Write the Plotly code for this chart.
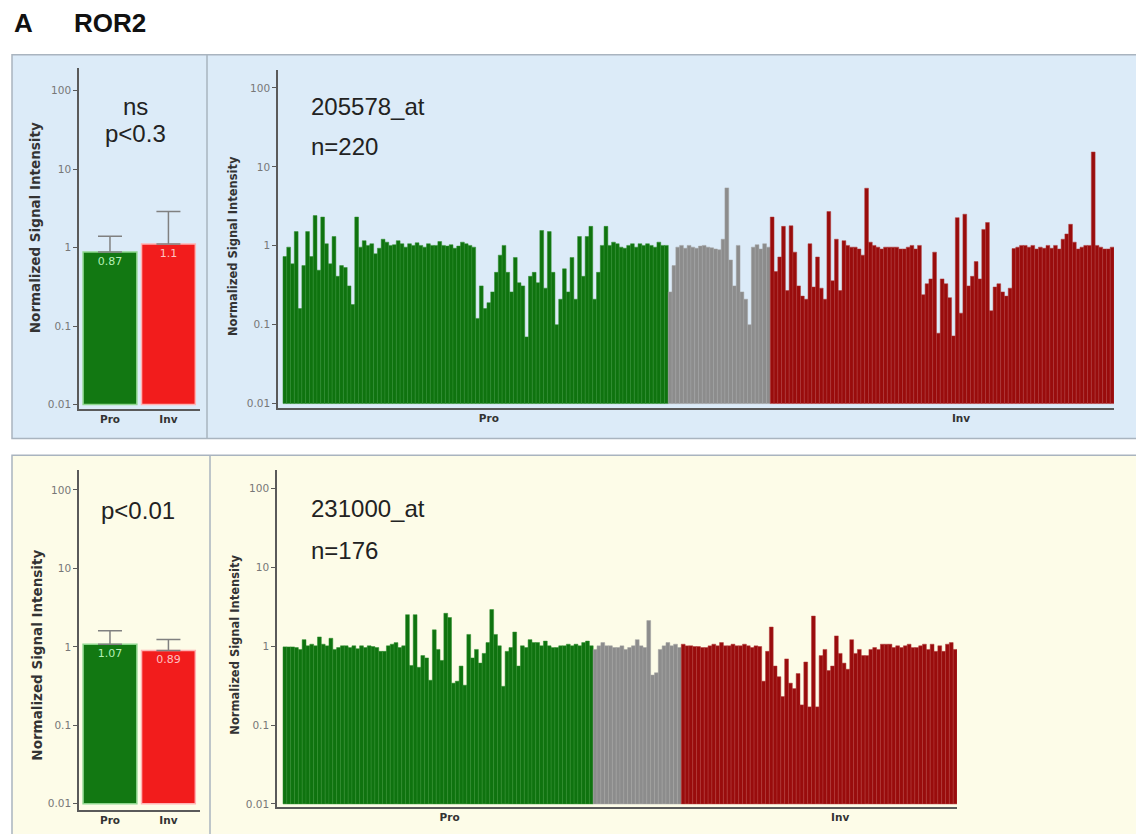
import plotly.graph_objects as go

W, H = 1136, 834

# ---------------- data ----------------
GROUPS = ["Pro", "Inv"]

# summary panels (mean and upper error-bar end)
TOP_MEAN = [0.87, 1.1]
TOP_UPPER = [1.38, 2.86]
TOP_LABELS = ["0.87", "1.1"]
BOT_MEAN = [1.07, 0.89]
BOT_UPPER = [1.6, 1.23]
BOT_LABELS = ["1.07", "0.89"]

# 205578_at, n=220
TOP_GREEN = [0.72, 0.95, 0.58, 1.5, 0.15, 0.55, 1.5, 0.72, 2.4, 0.48,
             2.3, 1.05, 0.58, 1.3, 0.4, 0.55, 0.52, 0.3, 0.17,
             2.3, 0.95, 1.15, 1.0, 1.05, 0.78, 0.92, 1.2, 1.1, 1.0,
             1.02, 1.15, 1.05, 0.95, 1.05, 1.0, 1.08, 1.0, 0.95, 1.05,
             1.0, 1.0, 1.12, 1.0, 0.98, 1.02, 0.92, 0.98, 1.1, 1.05, 1.0, 0.95,
             0.11, 0.3, 0.15, 0.18, 0.25, 0.45, 0.75, 1.0, 0.45, 0.25,
             0.7, 0.33, 0.3, 0.06, 0.4, 0.45, 0.33, 1.55, 0.28, 1.5,
             0.45, 0.09, 0.2, 0.5, 0.25, 0.7, 0.2, 1.3, 0.4, 1.3, 1.75, 0.2, 0.45,
             1.0, 1.75, 1.0, 1.1, 1.05, 0.95, 0.92, 1.0, 1.05, 0.95,
             1.05, 1.0, 1.05, 1.0, 0.95, 1.1, 1.0, 1.0]
TOP_GRAY = [0.25, 0.55, 0.95, 1.0, 0.92, 1.0, 0.95, 0.92, 0.98, 1.0,
            0.95, 0.93, 0.9, 0.88, 1.2, 5.4, 0.65, 0.3, 1.0, 0.25,
            0.2, 0.09, 0.95, 1.02, 0.9, 1.05, 0.95]
TOP_RED = [2.3, 0.46, 0.71, 1.75, 0.26, 1.78, 0.82, 0.3, 0.22, 0.2,
           1.05, 0.29, 0.71, 0.28, 0.2, 2.7, 0.35, 1.2, 0.26, 1.15,
           1.0, 0.95, 0.95, 0.9, 0.75, 5.35, 1.1, 1.0, 0.95, 0.9,
           0.95, 0.95, 0.95, 0.95, 0.9, 0.9, 0.95, 1.0, 0.9, 1.0,
           0.23, 0.32, 0.37, 0.82, 0.068, 0.37, 0.32, 0.21, 0.062, 2.26,
           0.13, 2.5, 0.3, 0.4, 0.62, 0.37, 1.6, 1.96, 0.14, 0.29,
           0.32, 0.25, 0.22, 0.28, 0.91, 0.95, 1.0, 1.0, 0.95, 1.0,
           0.9, 0.95, 0.92, 1.0, 0.92, 1.0, 0.9, 1.2, 1.4, 1.86,
           1.1, 0.9, 0.95, 1.0, 1.0, 15.4, 1.0, 0.95, 0.9, 0.9, 0.95]

# 231000_at, n=176
BOT_GREEN = [0.97, 0.97, 0.97, 0.95, 0.9, 1.2, 1.0, 1.05, 1.0, 1.3,
             1.05, 1.0, 1.25, 0.9, 0.95, 1.0, 1.0, 0.95, 1.0, 0.92,
             1.0, 0.95, 1.0, 0.98, 0.95, 0.85, 0.85, 1.0, 1.05, 1.1,
             0.95, 1.0,
             2.5, 0.56, 2.5, 0.53, 0.75, 0.7, 0.36, 1.6, 0.9, 0.65,
             2.6, 2.3, 0.33, 0.35, 0.55, 0.31, 1.4, 0.7, 0.9, 0.6,
             0.8, 1.1, 2.9, 1.4, 1.0, 0.3, 0.85, 0.95, 1.5, 0.55,
             1.0, 0.95, 1.2, 1.1, 1.1, 1.0, 1.15, 1.0, 0.95, 0.95,
             1.0, 1.0, 1.05, 1.0, 1.05, 1.0, 1.1, 1.15, 1.0]
BOT_GRAY = [0.9, 1.0, 1.1, 1.0, 1.0, 0.95, 0.95, 1.0, 0.9, 0.95,
            1.0, 1.2, 1.0, 0.95, 2.1, 0.42, 0.45, 0.9, 1.0, 1.1,
            1.0, 1.05, 0.95]
BOT_RED = [1.05, 1.0, 1.0, 0.98, 0.98, 0.95, 0.95, 1.0, 1.05, 1.0,
           1.1, 1.0, 1.0, 1.05, 1.0, 1.0, 1.05, 1.0, 0.95, 1.0,
           0.98, 0.35, 0.85, 1.74, 0.55, 0.4, 0.22, 0.68, 0.33, 0.28,
           0.44, 0.17, 0.62, 0.16, 2.4, 0.16, 0.75, 0.9, 0.48, 0.55,
           1.34, 0.8, 0.6, 0.5, 1.2, 0.8, 0.9, 0.75, 0.75, 0.9,
           0.95, 0.9, 1.05, 1.05, 1.05, 0.95, 1.0, 0.95, 1.0, 1.05,
           0.95, 0.95, 1.0, 1.05, 0.9, 1.05, 0.85, 1.0, 0.85, 1.05,
           1.1, 0.9]

Y_TICKS = [0.01, 0.1, 1, 10, 100]
Y_TICKTEXT = ["0.01", "0.1", "1", "10", "100"]
TOP_GROUP_TICKS = [54, 179]
BOT_GROUP_TICKS = [43, 145]

# ---------------- styling ----------------
GREEN = "#127812"
GREEN_EDGE = "#8fd68f"
RED = "#f21c1c"
RED_EDGE = "#ffb4b4"
DGREEN = "#0f730f"
DGREEN_EDGE = "#2f8f2f"
DARKRED = "#990c0c"
DARKRED_EDGE = "#b33a3a"
GRAY = "#8c8c8c"
GRAY_EDGE = "#a2a2a2"
AXIS = "#5a5a5a"
SMALL = "DejaVu Sans"
BIG = "Liberation Sans, Arial"


def px(x):
    return x / W


def py(y):
    return 1 - y / H


fig = go.Figure()

# ---- summary bar panels ----
def summary(mean, upper, labels, xa, ya):
    fig.add_trace(go.Bar(
        x=list(range(len(GROUPS))), y=mean, base=0.01, width=0.92,
        marker=dict(color=[GREEN, RED], line=dict(color=[GREEN_EDGE, RED_EDGE], width=1.5)),
        text=labels, textposition="inside", insidetextanchor="end",
        textangle=0, textfont=dict(family=SMALL, size=11, color=["#b5f0b5", "#ffc0c0"]),
        error_y=dict(type="data", symmetric=False,
                     array=[u - m for u, m in zip(upper, mean)],
                     arrayminus=[0] * len(mean), color="#808080",
                     thickness=1.5, width=12),
        xaxis=xa, yaxis=ya, hoverinfo="skip"))


summary(TOP_MEAN, TOP_UPPER, TOP_LABELS, "x", "y")
summary(BOT_MEAN, BOT_UPPER, BOT_LABELS, "x3", "y3")


# ---- per-sample panels ----
def samples(green, gray, red, xa, ya):
    start = 0
    for vals, col, edge in ((green, DGREEN, DGREEN_EDGE), (gray, GRAY, GRAY_EDGE), (red, DARKRED, DARKRED_EDGE)):
        fig.add_trace(go.Bar(
            x=list(range(start, start + len(vals))), y=vals, base=0.01, width=1.0,
            marker=dict(color=col, line=dict(color=edge, width=0.5)),
            xaxis=xa, yaxis=ya, hoverinfo="skip"))
        start += len(vals)
    return start


n_top = samples(TOP_GREEN, TOP_GRAY, TOP_RED, "x2", "y2")
n_bot = samples(BOT_GREEN, BOT_GRAY, BOT_RED, "x4", "y4")


def yaxis(dom, rng):
    return dict(type="log", domain=[py(dom[1]), py(dom[0])], range=rng,
                tickvals=Y_TICKS, ticktext=Y_TICKTEXT, ticks="outside", ticklen=4,
                tickcolor=AXIS, tickwidth=1, showline=True, linecolor=AXIS, linewidth=1.5,
                showgrid=False, zeroline=False,
                tickfont=dict(family=SMALL, size=10.5, color="#777777"))


def xaxis(dom, rng, tv, tt):
    return dict(domain=[px(dom[0]), px(dom[1])], range=rng, tickvals=tv, ticktext=tt,
                ticks="", showline=True, linecolor=AXIS, linewidth=1.5,
                showgrid=False, zeroline=False,
                tickfont=dict(family=SMALL, size=10.5, color="#333333", weight="bold"))


fig.update_layout(
    width=W, height=H, margin=dict(l=0, r=0, t=0, b=0),
    paper_bgcolor="white", plot_bgcolor="rgba(0,0,0,0)",
    showlegend=False, barmode="overlay",
    xaxis=dict(xaxis((79, 200), [-0.53, 1.54], [0, 1], GROUPS), anchor="y"),
    yaxis=dict(yaxis((68, 410), [-2.05, 2.29]), anchor="x"),
    xaxis2=dict(xaxis((278, 1114), [-1.82, n_top - 0.5], TOP_GROUP_TICKS, GROUPS), anchor="y2"),
    yaxis2=dict(yaxis((70, 409), [-2.05, 2.23]), anchor="x2"),
    xaxis3=dict(xaxis((79, 200), [-0.53, 1.54], [0, 1], GROUPS), anchor="y3"),
    yaxis3=dict(yaxis((472, 813), [-2.08, 2.25]), anchor="x3"),
    xaxis4=dict(xaxis((277, 957), [-2.07, n_bot - 0.5], BOT_GROUP_TICKS, GROUPS), anchor="y4"),
    yaxis4=dict(yaxis((472, 810), [-2.04, 2.23]), anchor="x4"),
)

# ---- background boxes ----
BORDER = "#a9b4bf"
shapes = [
    dict(type="rect", xref="paper", yref="paper", x0=px(12), x1=px(1140), y0=py(440), y1=py(55),
         fillcolor="#dcebf8", line=dict(color=BORDER, width=1.5), layer="below"),
    dict(type="line", xref="paper", yref="paper", x0=px(207), x1=px(207), y0=py(440), y1=py(55),
         line=dict(color=BORDER, width=1.5), layer="below"),
    dict(type="rect", xref="paper", yref="paper", x0=px(12), x1=px(1140), y0=py(840), y1=py(457),
         fillcolor="#fdfce8", line=dict(color=BORDER, width=1.5), layer="below"),
    dict(type="line", xref="paper", yref="paper", x0=px(210), x1=px(210), y0=py(840), y1=py(457),
         line=dict(color=BORDER, width=1.5), layer="below"),
]
fig.update_layout(shapes=shapes)


def ann(text, x, y, size, xanchor="center", family=BIG, bold=False, angle=0, color="#222222"):
    fig.add_annotation(text=text, xref="paper", yref="paper", x=px(x), y=py(y),
                       xanchor=xanchor, yanchor="middle", showarrow=False, textangle=angle,
                       font=dict(family=family, size=size, color=color,
                                 weight="bold" if bold else "normal"))


ann("A", 12, 23, 26, "left", bold=True, color="#111111")
ann("ROR2", 72, 23, 26, "left", bold=True, color="#111111")
ann("ns", 135, 107, 24)
ann("p<0.3", 135, 134, 24)
ann("205578_at", 309, 107, 24, "left")
ann("n=220", 309, 147, 24, "left")
ann("p<0.01", 138, 512, 24)
ann("231000_at", 309, 510, 24, "left")
ann("n=176", 309, 552, 24, "left")

YT = "Normalized Signal Intensity"
ann(YT, 35, 229, 13.5, family=SMALL, bold=True, angle=-90, color="#333333")
ann(YT, 233, 247, 11.5, family=SMALL, bold=True, angle=-90, color="#333333")
ann(YT, 37, 658, 13.5, family=SMALL, bold=True, angle=-90, color="#333333")
ann(YT, 235, 647, 11.5, family=SMALL, bold=True, angle=-90, color="#333333")

fig.write_html("out.html")
